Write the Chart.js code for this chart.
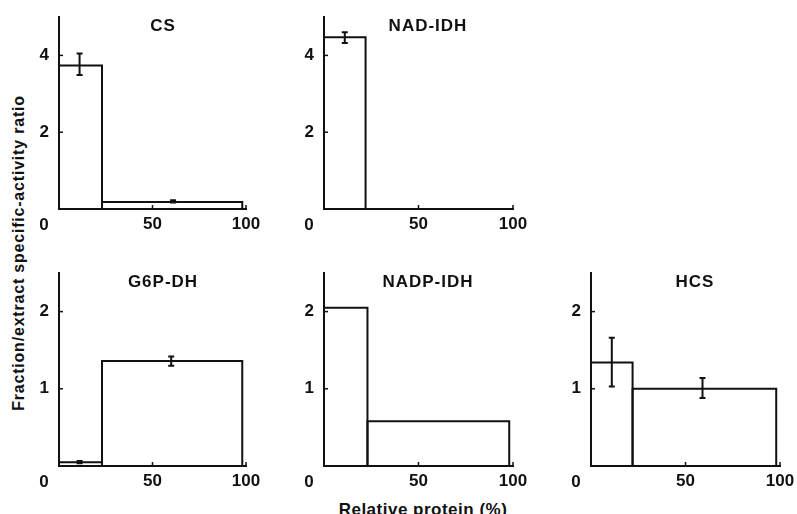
<!DOCTYPE html>
<html>
<head>
<meta charset="utf-8">
<script src="https://cdn.jsdelivr.net/npm/chart.js@4.4.0/dist/chart.umd.min.js"></script>
<style>
  body { margin: 0; background: #fff; width: 797px; height: 514px; overflow: hidden; position: relative; font-family: "Liberation Sans", Arial, sans-serif; }
  canvas { position: absolute; }
  .lbl { position: absolute; color: #111; font-weight: bold; white-space: nowrap; }
</style>
</head>
<body>

<div class="lbl" style="left:19px; top:253px; font-size:16px; letter-spacing:0.8px; transform: translate(-50%,-50%) rotate(-90deg);">Fraction/extract specific-activity ratio</div>
<div class="lbl" style="left:423px; top:500px; font-size:17px; letter-spacing:0.5px; transform: translateX(-50%);">Relative protein (%)</div>

<script>
// values (x = relative protein %, y = fraction/extract ratio)
const panelNames = ['CS', 'NAD-IDH', 'G6P-DH', 'NADP-IDH', 'HCS'];
const binEdges   = [[0, 23, 98], [0, 22], [0, 23, 98], [0, 23, 98], [0, 22, 98]];
const ratios     = [[3.74, 0.18], [4.47], [0.05, 1.36], [2.05, 0.58], [1.34, 1.0]];
const errX       = [[11, 61], [11], [11, 60], [], [11, 59]];
const errMean    = [[3.77, 0.2], [4.46], [0.05, 1.36], [], [1.345, 1.01]];
const errSd      = [[0.28, 0.03], [0.14], [0.015, 0.06], [], [0.315, 0.13]];
const yMax       = [5, 5, 2.5, 2.5, 2.5];
const yTicks     = [[2, 4], [2, 4], [1, 2], [1, 2], [1, 2]];
const xTicks     = [0, 50, 100];

// where each panel sits on the page
const axisLeft = [59, 324, 59, 324, 591];
const plotW    = [187, 189, 187, 189, 189];
const plotTop  = [17, 17, 273, 273, 273];
const plotH    = [192, 192, 193, 193, 193];

const PAD_T = 10, Y_W = 40, X_H = 30, PAD_R = 25;
const tickFont = { family: 'Liberation Sans', size: 17, weight: 'bold' };
const ink = '#111';

function noPad(s) {
  s.paddingTop = 0; s.paddingBottom = 0; s.paddingLeft = 0; s.paddingRight = 0;
}

const panelPlugin = {
  id: 'panelExtras',
  afterDatasetsDraw(chart) {
    const i = chart.options.plugins.panelExtras.panel;
    const xs = chart.scales.x, ys = chart.scales.y;
    const ctx = chart.ctx;
    ctx.save();
    ctx.strokeStyle = ink;
    ctx.lineWidth = 2;
    // error bars
    errX[i].forEach((x, k) => {
      const px = xs.getPixelForValue(x);
      const top = ys.getPixelForValue(errMean[i][k] + errSd[i][k]);
      const bot = ys.getPixelForValue(errMean[i][k] - errSd[i][k]);
      ctx.beginPath();
      ctx.moveTo(px, top); ctx.lineTo(px, bot);
      ctx.moveTo(px - 3, top); ctx.lineTo(px + 3, top);
      ctx.moveTo(px - 3, bot); ctx.lineTo(px + 3, bot);
      ctx.stroke();
    });
    // inward tick marks
    ctx.lineWidth = 1.5;
    ys.ticks.forEach(t => {
      const py = ys.getPixelForValue(t.value);
      ctx.beginPath(); ctx.moveTo(xs.left, py); ctx.lineTo(xs.left + 4, py); ctx.stroke();
    });
    xs.ticks.forEach(t => {
      if (t.value === 0) return;
      const px = xs.getPixelForValue(t.value);
      ctx.beginPath(); ctx.moveTo(px, ys.bottom); ctx.lineTo(px, ys.bottom - 4); ctx.stroke();
    });
    // origin "0" sits left of the corner
    ctx.fillStyle = ink;
    ctx.font = 'bold 17px "Liberation Sans"';
    ctx.textAlign = 'center';
    ctx.textBaseline = 'top';
    ctx.fillText('0', xs.getPixelForValue(0) - 15, ys.bottom + 8);
    // panel title
    ctx.letterSpacing = '1px';
    ctx.fillText(panelNames[i], xs.left + 104, ys.top + 1);
    ctx.restore();
  }
};

panelNames.forEach((name, i) => {
  const cv = document.createElement('canvas');
  const w = Y_W + plotW[i] + PAD_R;
  const h = PAD_T + plotH[i] + X_H;
  cv.width = w; cv.height = h;
  cv.style.left = (axisLeft[i] - Y_W) + 'px';
  cv.style.top = (plotTop[i] - PAD_T) + 'px';
  document.body.appendChild(cv);

  const boxes = ratios[i].map((v, k) => ({
    type: 'scatter',
    showLine: true,
    data: [
      { x: binEdges[i][k], y: 0 },
      { x: binEdges[i][k], y: v },
      { x: binEdges[i][k + 1], y: v },
      { x: binEdges[i][k + 1], y: 0 }
    ],
    borderColor: ink,
    borderWidth: 2,
    pointRadius: 0,
    tension: 0,
    fill: false
  }));

  new Chart(cv.getContext('2d'), {
    type: 'scatter',
    data: { datasets: boxes },
    options: {
      responsive: false,
      animation: false,
      devicePixelRatio: 1,
      layout: { padding: { top: PAD_T, right: PAD_R, left: 0, bottom: 0 } },
      plugins: { legend: { display: false }, tooltip: { enabled: false }, panelExtras: { panel: i } },
      scales: {
        x: {
          type: 'linear', min: 0, max: 100,
          afterBuildTicks: s => { s.ticks = xTicks.map(v => ({ value: v })); },
          afterFit: s => { s.height = X_H; noPad(s); },
          ticks: { font: tickFont, color: ink, padding: 5, maxRotation: 0, callback: v => (v === 0 ? '' : v) },
          grid: { drawOnChartArea: false, drawTicks: false },
          border: { display: true, color: ink, width: 2 }
        },
        y: {
          min: 0, max: yMax[i],
          afterBuildTicks: s => { s.ticks = yTicks[i].map(v => ({ value: v })); },
          afterFit: s => { s.width = Y_W; noPad(s); },
          ticks: { font: tickFont, color: ink, padding: 10 },
          grid: { drawOnChartArea: false, drawTicks: false },
          border: { display: true, color: ink, width: 2 }
        }
      }
    },
    plugins: [panelPlugin]
  });
});
</script>
</body>
</html>
